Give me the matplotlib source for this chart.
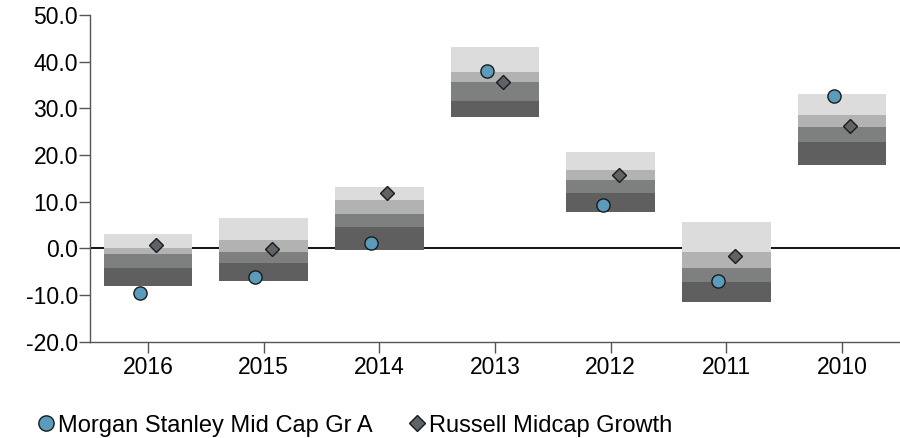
import numpy as np
import matplotlib
matplotlib.use("Agg")
import matplotlib.pyplot as plt
from matplotlib.lines import Line2D

# ── Data ───────────────────────────────────────────────────────────────────────
years = ["2016", "2015", "2014", "2013", "2012", "2011", "2010"]

# percentile band edges (top -> bottom)
p05 = [3.0, 6.5, 13.2, 43.1, 20.7, 5.6, 33.0]
p25 = [0.1, 1.8, 10.3, 37.8, 16.7, -0.7, 28.5]
p50 = [-1.3, -0.8, 7.3, 35.6, 14.6, -4.2, 26.1]
p75 = [-4.2, -3.1, 4.6, 31.6, 11.8, -7.2, 22.7]
p95 = [-8.1, -7.0, -0.4, 28.1, 7.7, -11.4, 17.8]

fund  = [-9.6, -6.1, 1.1, 37.9, 9.2, -7.0, 32.7]
bench = [0.7, -0.2, 11.9, 35.6, 15.8, -1.6, 26.3]

fund_name  = "Morgan Stanley Mid Cap Gr A"
bench_name = "Russell Midcap Growth"

yticks = [-20, -10, 0, 10, 20, 30, 40, 50]

# ── Style ──────────────────────────────────────────────────────────────────────
BAND_COLORS = ["#dcdcdc", "#b2b2b2", "#7e807f", "#5f5f5f"]
FUND_COLOR  = "#5b9cbd"
BENCH_COLOR = "#5f6367"
EDGE        = "#1a1a1a"
BOX_W       = 0.765
OFFSET      = 0.07

plt.rcParams["font.family"] = ["Liberation Sans", "DejaVu Sans"]

fig = plt.figure(figsize=(9, 4.38), dpi=100)
ax = fig.add_axes([0.1, 0.22, 0.9, 0.7458])

x = np.arange(len(years))
edges = [p05, p25, p50, p75, p95]
for i in range(4):
    top = np.array(edges[i])
    bot = np.array(edges[i + 1])
    ax.bar(x, top - bot, bottom=bot, width=BOX_W, color=BAND_COLORS[i],
           linewidth=0, zorder=3)

ax.axhline(0, color="black", linewidth=1.3, zorder=2)

ax.plot(x - OFFSET, fund, "o", ms=9.5, mfc=FUND_COLOR, mec=EDGE, mew=1.0,
        zorder=5, linestyle="none")
ax.plot(x + OFFSET, bench, "D", ms=7.5, mfc=BENCH_COLOR, mec=EDGE, mew=1.0,
        zorder=5, linestyle="none")

ax.set_xlim(-0.5, len(years) - 0.5)
ax.set_ylim(-20, 50)
ax.set_xticks(x)
ax.set_xticklabels(years)
ax.set_yticks(yticks)
ax.set_yticklabels([f"{v:.1f}" for v in yticks])

for side in ("top", "right"):
    ax.spines[side].set_visible(False)
for side in ("left", "bottom"):
    ax.spines[side].set_color("#555555")
    ax.spines[side].set_linewidth(1.0)
ax.tick_params(direction="out", length=8, width=1.0, color="#555555",
               labelsize=16.5, pad=0.5)
ax.tick_params(axis="x", pad=2)

handles = [
    Line2D([], [], marker="o", ms=11, mfc=FUND_COLOR, mec=EDGE, mew=1.0,
           linestyle="none"),
    Line2D([], [], marker="D", ms=8.5, mfc=BENCH_COLOR, mec=EDGE, mew=1.0,
           linestyle="none"),
]
fig.legend(handles, [fund_name, bench_name], loc="center left",
           bbox_to_anchor=(0.03, 0.028), ncol=2, frameon=False,
           fontsize=17, handlelength=0.8, handletextpad=0.1,
           columnspacing=1.5, borderaxespad=0)

fig.savefig("out.png", dpi=100)
